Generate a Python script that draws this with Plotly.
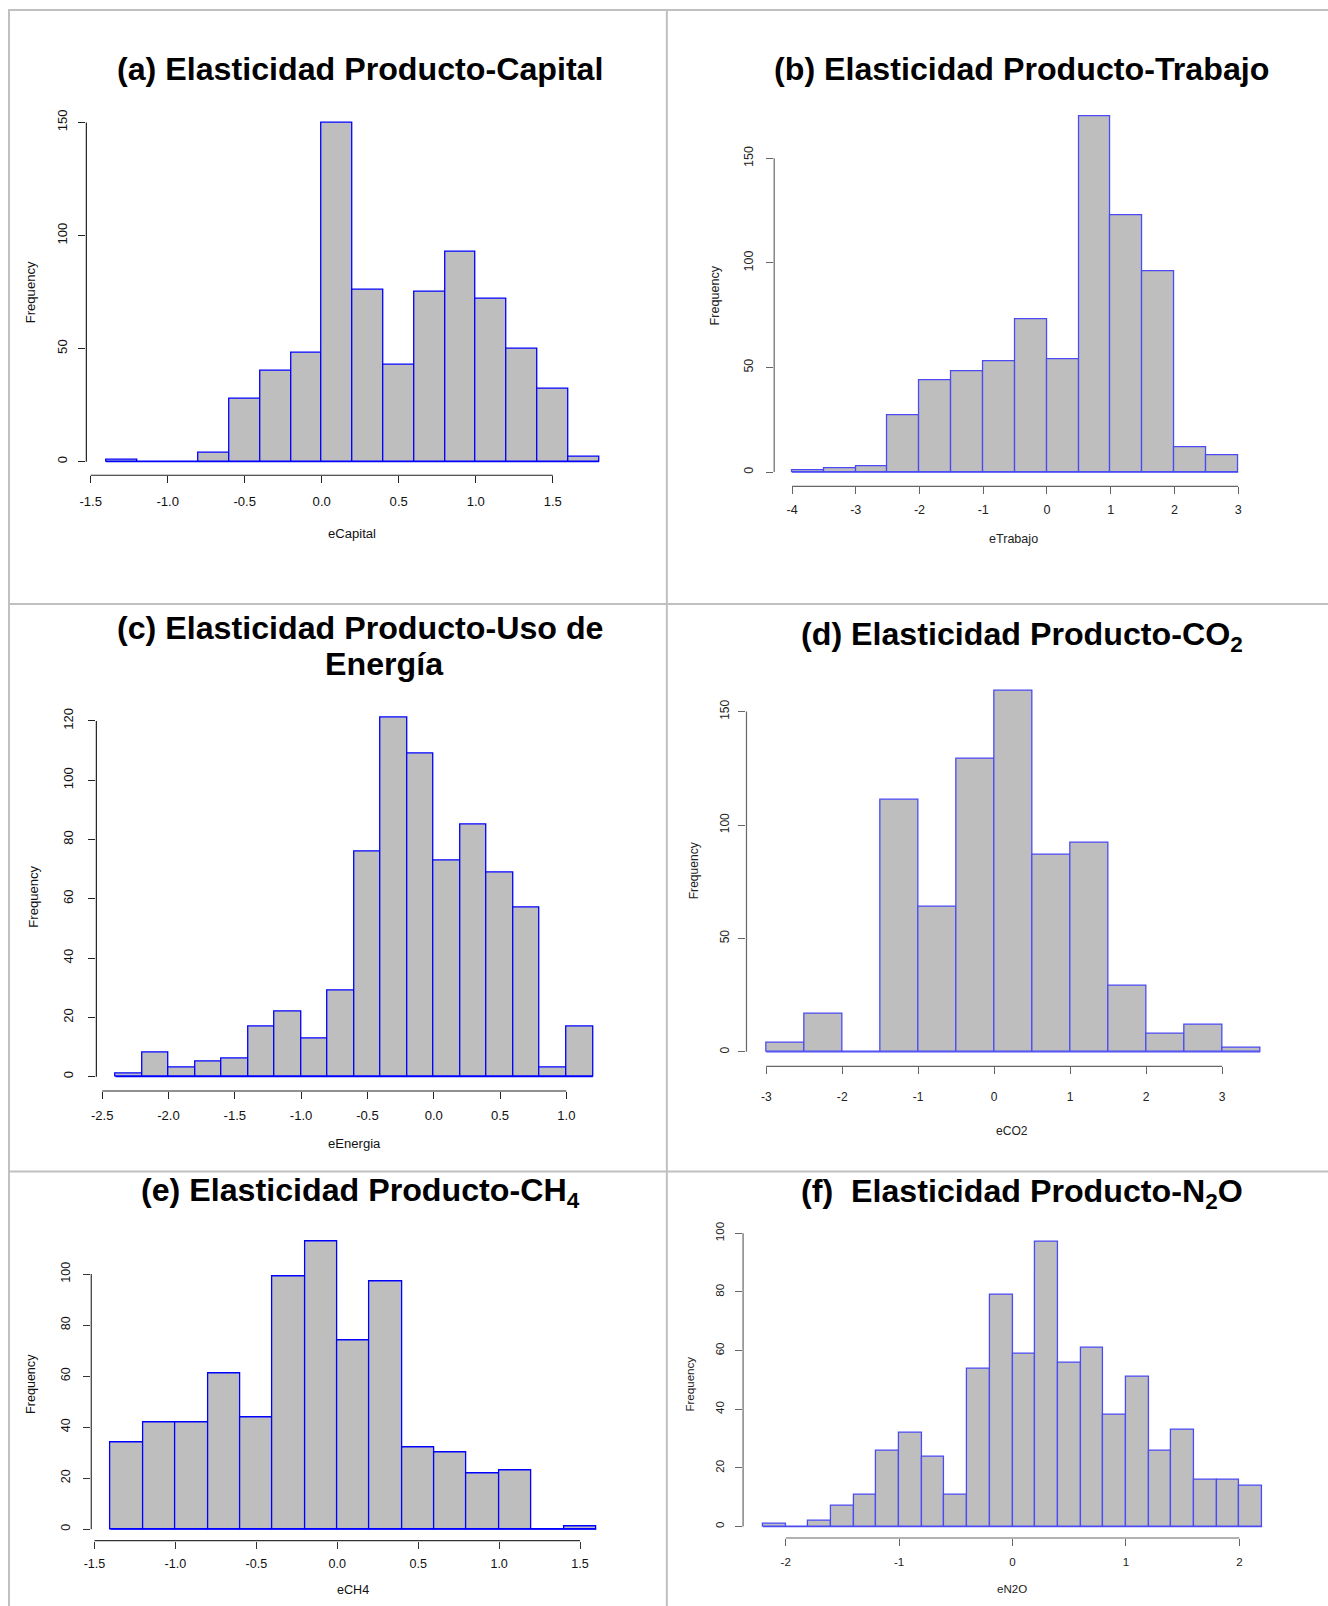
import plotly.graph_objects as go

# The page is shown with an 8px body margin and photographed at a slight uniform scale;
# map reference pixel positions into figure pixels accordingly.
BODY = 8
S = 0.9938
W, H = 1328, 1608

# ---------------- data (histogram counts) ----------------
capital_start, capital_width = -1.4, 0.2
capital_counts = [1, 0, 0, 4, 28, 40, 48, 150, 76, 43, 75, 93, 72, 50, 32, 2]
capital_xticks = [-1.5, -1.0, -0.5, 0.0, 0.5, 1.0, 1.5]
capital_xlabels = ["-1.5", "-1.0", "-0.5", "0.0", "0.5", "1.0", "1.5"]
capital_yticks = [0, 50, 100, 150]

trabajo_start, trabajo_width = -4.0, 0.5
trabajo_counts = [1, 2, 3, 27, 44, 48, 53, 73, 54, 170, 123, 96, 12, 8]
trabajo_xticks = [-4, -3, -2, -1, 0, 1, 2, 3]
trabajo_xlabels = ["-4", "-3", "-2", "-1", "0", "1", "2", "3"]
trabajo_yticks = [0, 50, 100, 150]

energia_start, energia_width = -2.4, 0.2
energia_counts = [1, 8, 3, 5, 6, 17, 22, 13, 29, 76, 121, 109, 73, 85, 69, 57, 3, 17]
energia_xticks = [-2.5, -2.0, -1.5, -1.0, -0.5, 0.0, 0.5, 1.0]
energia_xlabels = ["-2.5", "-2.0", "-1.5", "-1.0", "-0.5", "0.0", "0.5", "1.0"]
energia_yticks = [0, 20, 40, 60, 80, 100, 120]

co2_start, co2_width = -3.0, 0.5
co2_counts = [4, 17, 0, 111, 64, 129, 159, 87, 92, 29, 8, 12, 2]
co2_xticks = [-3, -2, -1, 0, 1, 2, 3]
co2_xlabels = ["-3", "-2", "-1", "0", "1", "2", "3"]
co2_yticks = [0, 50, 100, 150]

ch4_start, ch4_width = -1.4, 0.2
ch4_counts = [34, 42, 42, 61, 44, 99, 113, 74, 97, 32, 30, 22, 23, 0, 1]
ch4_xticks = [-1.5, -1.0, -0.5, 0.0, 0.5, 1.0, 1.5]
ch4_xlabels = ["-1.5", "-1.0", "-0.5", "0.0", "0.5", "1.0", "1.5"]
ch4_yticks = [0, 20, 40, 60, 80, 100]

n2o_start, n2o_width = -2.2, 0.2
n2o_counts = [1, 0, 2, 7, 11, 26, 32, 24, 11, 54, 79, 59, 97, 56, 61, 38, 51, 26, 33, 16, 16, 14]
n2o_xticks = [-2, -1, 0, 1, 2]
n2o_xlabels = ["-2", "-1", "0", "1", "2"]
n2o_yticks = [0, 20, 40, 60, 80, 100]

titles = [
    ["(a) Elasticidad Producto-Capital"],
    ["(b) Elasticidad Producto-Trabajo"],
    ["(c) Elasticidad Producto-Uso de", "Energía"],
    ["(d) Elasticidad Producto-CO<sub>2</sub>"],
    ["(e) Elasticidad Producto-CH<sub>4</sub>"],
    ["(f)  Elasticidad Producto-N<sub>2</sub>O"],
]
xtitles = ["eCapital", "eTrabajo", "eEnergia", "eCO2", "eCH4", "eN2O"]
ytitle = "Frequency"

data = [
    (capital_start, capital_width, capital_counts, capital_xticks, capital_xlabels, capital_yticks),
    (trabajo_start, trabajo_width, trabajo_counts, trabajo_xticks, trabajo_xlabels, trabajo_yticks),
    (energia_start, energia_width, energia_counts, energia_xticks, energia_xlabels, energia_yticks),
    (co2_start, co2_width, co2_counts, co2_xticks, co2_xlabels, co2_yticks),
    (ch4_start, ch4_width, ch4_counts, ch4_xticks, ch4_xlabels, ch4_yticks),
    (n2o_start, n2o_width, n2o_counts, n2o_xticks, n2o_xlabels, n2o_yticks),
]


# ---------------- layout / style (reference pixel positions) ----------------
def FX(x):  # reference px -> figure px
    return x / S - BODY


def FY(y):
    return y / S - BODY


def PX(x):
    return min(1.0, max(0.0, FX(x) / W))


def PY(y):
    return min(1.0, max(0.0, 1 - FY(y) / H))


# plot region in reference px: left, right, top, bottom
regions = [
    (86.3, 618.5, 107.7, 473.9),
    (774.0, 1255.7, 101.1, 485.0),
    (96.3, 611.8, 702.1, 1089.3),
    (746.3, 1279.6, 675.3, 1064.6),
    (91.2, 615.5, 1227.6, 1538.7),
    (742.9, 1281.8, 1228.9, 1536.0),
]
# title line centres (x, y) reference px
title_pos = [
    [(360, 67.5)],
    [(1021, 67.5)],
    [(360, 626.5), (384, 663)],
    [(1022, 635.5)],
    [(360, 1190.5)],
    [(1022, 1192)],
]
xtitle_pos = [(352, 532.5), (1013.7, 537.5), (354, 1142), (1011.6, 1129), (352.5, 1588.3), (1011.6, 1586.7)]
ytitle_pos = [(30, 291), (715, 294), (34, 895), (694, 869.5), (31.5, 1382.5), (690, 1382.5)]
xlab_gap = [25, 22.8, 23.1, 28.6, 21.8, 22.2]
ylab_gap = [24.3, 25.3, 27.9, 22.1, 25.8, 22.9]
fsize = [13, 12.5, 13, 12, 12.5, 11.5]
bar_line = ["#0000FF", "#4B4BF5", "#0000FF", "#4B4BF5", "#0000FF", "#4B4BF5"]
axis_col = ["#222222", "#666666", "#222222", "#666666", "#333333", "#666666"]
text_col = ["#111111", "#222222", "#111111", "#222222", "#111111", "#222222"]
FONT = "Liberation Sans, Arial, sans-serif"

fig = go.Figure()
layout = dict(
    width=W, height=H, margin=dict(l=0, r=0, t=0, b=0),
    paper_bgcolor="white", plot_bgcolor="white", showlegend=False,
    font=dict(family=FONT, color="#111111"),
)
shapes = []
annotations = []

for i, (start, width, counts, xt, xl, yt) in enumerate(data):
    k = i + 1
    xa = "x" if k == 1 else f"x{k}"
    ya = "y" if k == 1 else f"y{k}"
    n = len(counts)
    centers = [start + width * (j + 0.5) for j in range(n)]
    lo, hi = start, start + width * n
    ext = 0.04 * (hi - lo)
    xr = [lo - ext, hi + ext]
    ymax = max(counts)
    yr = [-0.04 * ymax, 1.04 * ymax]
    l, r, t, b = regions[i]
    fs = fsize[i] / S

    fig.add_trace(go.Scatter(
        x=[lo, hi], y=[0, 0], mode="lines", xaxis=xa, yaxis=ya,
        line=dict(color=bar_line[i], width=1.3), hoverinfo="skip"))
    fig.add_trace(go.Bar(
        x=centers, y=counts, width=[width] * n, xaxis=xa, yaxis=ya,
        marker=dict(color="#BEBEBE", line=dict(color=bar_line[i], width=1.3)),
        hoverinfo="x+y"))

    tf = dict(family=FONT, size=fs, color=text_col[i])
    layout["xaxis" if k == 1 else f"xaxis{k}"] = dict(
        domain=[PX(l), PX(r)], range=xr, anchor=ya, showgrid=False, zeroline=False,
        showline=False, ticks="outside", ticklen=7, tickwidth=1, tickcolor=axis_col[i],
        tickvals=xt, ticktext=xl, tickfont=tf,
        ticklabelstandoff=int(round(max(0, xlab_gap[i] / S - 7 - fs * 0.85))),
        fixedrange=True,
    )
    layout["yaxis" if k == 1 else f"yaxis{k}"] = dict(
        domain=[PY(b), PY(t)], range=yr, anchor=xa, showgrid=False, zeroline=False,
        showline=False, ticks="outside", ticklen=7, tickwidth=1, tickcolor=axis_col[i],
        tickvals=yt, ticktext=[str(v) for v in yt], tickangle=-90, tickfont=tf,
        ticklabelstandoff=int(round(max(0, ylab_gap[i] / S - 7 - fs * 0.85))),
        fixedrange=True,
    )
    # R-style axis lines spanning only the tick range
    shapes.append(dict(type="line", xref=xa, yref=f"{ya} domain",
                       x0=min(xt), x1=max(xt), y0=0, y1=0,
                       line=dict(color=axis_col[i], width=1.2)))
    shapes.append(dict(type="line", xref=f"{xa} domain", yref=ya,
                       x0=0, x1=0, y0=min(yt), y1=max(yt),
                       line=dict(color=axis_col[i], width=1.2)))

    for line_txt, (px, py) in zip(titles[i], title_pos[i]):
        annotations.append(dict(
            text=f"<b>{line_txt}</b>", x=PX(px), y=PY(py), xref="paper", yref="paper",
            xanchor="center", yanchor="middle", showarrow=False,
            font=dict(family=FONT, size=32 / S, color="black")))
    px, py = xtitle_pos[i]
    annotations.append(dict(
        text=xtitles[i], x=PX(px), y=PY(py), xref="paper", yref="paper",
        xanchor="center", yanchor="middle", showarrow=False,
        font=dict(family=FONT, size=fs, color=text_col[i])))
    px, py = ytitle_pos[i]
    annotations.append(dict(
        text=ytitle, x=PX(px), y=PY(py), xref="paper", yref="paper",
        xanchor="center", yanchor="middle", showarrow=False, textangle=-90,
        font=dict(family=FONT, size=fs, color=text_col[i])))

# table-like grey frame lines (figure px; outer left/top edges sit at the figure edge)
grid = "#C0C0C0"
frame = [(0, 1, W, 1), (0, FY(602.7), W, FY(602.7)), (0, FY(1169.7), W, FY(1169.7)),
         (1, 1, 1, H), (FX(666.7), 1, FX(666.7), H)]
for (x0, y0, x1, y1) in frame:
    shapes.append(dict(type="line", xref="paper", yref="paper",
                       x0=x0 / W, x1=x1 / W, y0=1 - y0 / H, y1=1 - y1 / H,
                       line=dict(color=grid, width=2)))

layout["shapes"] = shapes
layout["annotations"] = annotations
layout["bargap"] = 0
fig.update_layout(**layout)
fig.write_html("out.html")
